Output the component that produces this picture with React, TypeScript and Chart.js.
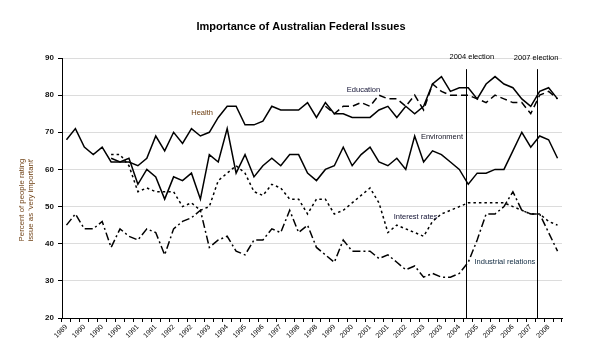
import React, { useEffect, useRef } from 'react';
import { Chart, registerables } from 'chart.js';

Chart.register(...registerables);

const FONT = '"Liberation Sans", Arial, sans-serif';

// Shown tick labels (one on every second survey point)
const tickLabels = [
  '1989', '1990', '1990', '1990', '1991', '1991', '1992', '1992', '1993', '1994',
  '1995', '1996', '1997', '1998', '1998', '1999', '2000', '2001', '2001', '2002',
  '2003', '2003', '2004', '2005', '2006', '2006', '2007', '2008',
];

// 56 survey points; only every second one carries a label
const categories: string[] = [];
tickLabels.forEach((t) => {
  categories.push(t);
  categories.push('');
});

const N = null;

const health = [
  68, 71, 66, 64, 66, 62, 62, 62, 61, 63, 69, 65, 70, 67, 71, 69, 70, 74, 77, 77,
  72, 72, 73, 77, 76, 76, 76, 78, 74, 78, 75, 75, 74, 74, 74, 76, 77, 74, 77, 75,
  77, 83, 85, 81, 82, 82, 79, 83, 85, 83, 82, 79, 77, 81, 82, 79,
];

const education = [
  N, N, N, N, N, N, N, N, N, N, N, N, N, N, N, N, N, N, N, N,
  N, N, N, N, N, N, N, N, N, 77, 75, 77, 77, 78, 77, 80, 79, 79, 77, 80,
  76, 83, 81, 80, 80, 80, 79, 78, 80, 79, 78, 78, 75, 80, 81, 79,
];

const environment = [
  N, N, N, N, N, 63, 62, 63, 56, 60, 58, 52, 58, 57, 59, 52, 64, 62, 71, 59,
  64, 58, 61, 63, 61, 64, 64, 59, 57, 60, 61, 66, 61, 64, 66, 62, 61, 63, 60, 69,
  62, 65, 64, 62, 60, 56, 59, 59, 60, 60, 65, 70, 66, 69, 68, 63,
];

const interestRates = [
  N, N, N, N, N, 64, 64, 61, 54, 55, 54, 54, 54, 50, 51, 49, 50, 57, 59, 61,
  59, 54, 53, 56, 55, 52, 52, 48, 52, 52, 48, 49, 51, 53, 55, 51, 43, 45, 44, 43,
  42, 46, 48, 49, 50, 51, 51, 51, 51, 51, 50, 49, 48, 48, 46, 45,
];

const industrialRelations = [
  45, 48, 44, 44, 46, 39, 44, 42, 41, 44, 43, 37, 44, 46, 47, 49, 39, 41, 42, 38,
  37, 41, 41, 44, 43, 49, 43, 45, 39, 37, 35, 41, 38, 38, 38, 36, 37, 35, 33, 34,
  31, 32, 31, 31, 32, 35, 41, 48, 48, 50, 54, 49, 48, 48, 43, 38,
];

// Elections (position along the survey axis)
const electionNames = ['2004 election', '2007 election'];
const electionPoints = [44.75, 52.75];
const electionTop = 87;

const seriesNames = ['Health', 'Education', 'Environment', 'Interest rates', 'Industrial relations'];

// label placements in data coordinates (left edge index, value)
const labelPlacement = [
  { index: 13.98, value: 75.2, color: '#6e3f12' },
  { index: 31.4, value: 81.3, color: '#111133' },
  { index: 39.7, value: 68.8, color: '#111122' },
  { index: 36.65, value: 47.3, color: '#111133' },
  { index: 45.7, value: 35.2, color: '#102a40' },
];

const yTitle = ['Percent of people rating', "issue as 'very important'"];
const chartTitle = 'Importance of Australian Federal Issues';

const annotPlugin = {
  id: 'annot',
  afterDatasetsDraw(chart: any) {
    const { ctx, scales } = chart;
    const xs = scales.x;
    const ys = scales.y;
    ctx.save();
    // election lines
    ctx.strokeStyle = '#000';
    ctx.lineWidth = 1;
    electionPoints.forEach((p) => {
      const x = Math.round(xs.getPixelForValue(p)) + 0.5;
      ctx.beginPath();
      ctx.moveTo(x, ys.getPixelForValue(electionTop));
      ctx.lineTo(x, ys.getPixelForValue(20));
      ctx.stroke();
    });
    // election labels
    ctx.fillStyle = '#000';
    ctx.font = `7.5px ${FONT}`;
    ctx.textAlign = 'center';
    ctx.textBaseline = 'middle';
    ctx.fillText(electionNames[0], xs.getPixelForValue(45.4), ys.getPixelForValue(90.2));
    ctx.fillText(electionNames[1], xs.getPixelForValue(52.6), ys.getPixelForValue(89.9));
    // series labels
    ctx.textAlign = 'left';
    seriesNames.forEach((name, i) => {
      const pl = labelPlacement[i];
      ctx.fillStyle = pl.color;
      ctx.fillText(name, xs.getPixelForValue(pl.index), ys.getPixelForValue(pl.value));
    });
    ctx.restore();
  },
  afterDraw(chart: any) {
    const { ctx, chartArea } = chart;
    ctx.save();
    ctx.fillStyle = '#000';
    ctx.font = `bold 11px ${FONT}`;
    ctx.textAlign = 'center';
    ctx.textBaseline = 'middle';
    ctx.fillText(chartTitle, 301, 27);
    // y axis title
    ctx.fillStyle = '#6e3f12';
    ctx.font = `7.8px ${FONT}`;
    const cy = (chartArea.top + chartArea.bottom) / 2 + 12;
    yTitle.forEach((line, i) => {
      ctx.save();
      ctx.translate(21.7 + i * 9, cy);
      ctx.rotate(-Math.PI / 2);
      ctx.fillText(line, 0, 0);
      ctx.restore();
    });
    ctx.restore();
  },
};

export default function App() {
  const ref = useRef<HTMLCanvasElement | null>(null);
  useEffect(() => {
    if (!ref.current) return;
    const mk = (label: string, data: any[], dash: number[]) => ({
      label,
      data,
      borderColor: '#000',
      backgroundColor: '#000',
      borderWidth: 1.5,
      borderDash: dash,
      pointRadius: 0,
      fill: false,
      tension: 0,
      spanGaps: false,
    });
    const chart = new Chart(ref.current, {
      type: 'line',
      data: {
        labels: categories,
        datasets: [
          mk(seriesNames[0], health, []),
          mk(seriesNames[1], education, [7, 4]),
          mk(seriesNames[2], environment, []),
          mk(seriesNames[3], interestRates, [2.5, 3]),
          mk(seriesNames[4], industrialRelations, [8, 3, 2, 3]),
        ],
      },
      options: {
        animation: false,
        responsive: false,
        maintainAspectRatio: false,
        layout: { padding: { left: 0, top: 58, right: 34, bottom: 0 } },
        plugins: {
          legend: { display: false },
          title: { display: false },
          tooltip: { enabled: false },
        },
        scales: {
          x: {
            type: 'category',
            offset: true,
            grid: {
              offset: true,
              drawOnChartArea: false,
              drawTicks: true,
              tickLength: 4,
              color: '#000',
              tickColor: '#000',
            },
            border: { display: true, color: '#000', width: 1 },
            ticks: {
              autoSkip: false,
              maxRotation: 45,
              minRotation: 45,
              padding: 1,
              color: '#000',
              font: { size: 7, family: FONT },
            },
            afterFit: (s: any) => {
              s.height = 44;
            },
          },
          y: {
            min: 20,
            max: 90,
            ticks: {
              stepSize: 10,
              padding: 4,
              color: '#111',
              font: { size: 8, family: FONT, weight: 'bold' },
            },
            grid: {
              color: '#dcdcdc',
              tickColor: '#000',
              tickLength: 4,
              lineWidth: 1,
            },
            border: { display: true, color: '#000', width: 1 },
            afterFit: (s: any) => {
              s.width = 62;
            },
          },
        },
      },
      plugins: [annotPlugin],
    } as any);
    return () => chart.destroy();
  }, []);
  return (
    <div style={{ position: 'fixed', left: 0, top: 0, width: 596, height: 362, background: '#fff' }}>
      <canvas ref={ref} width={596} height={362} />
    </div>
  );
}
